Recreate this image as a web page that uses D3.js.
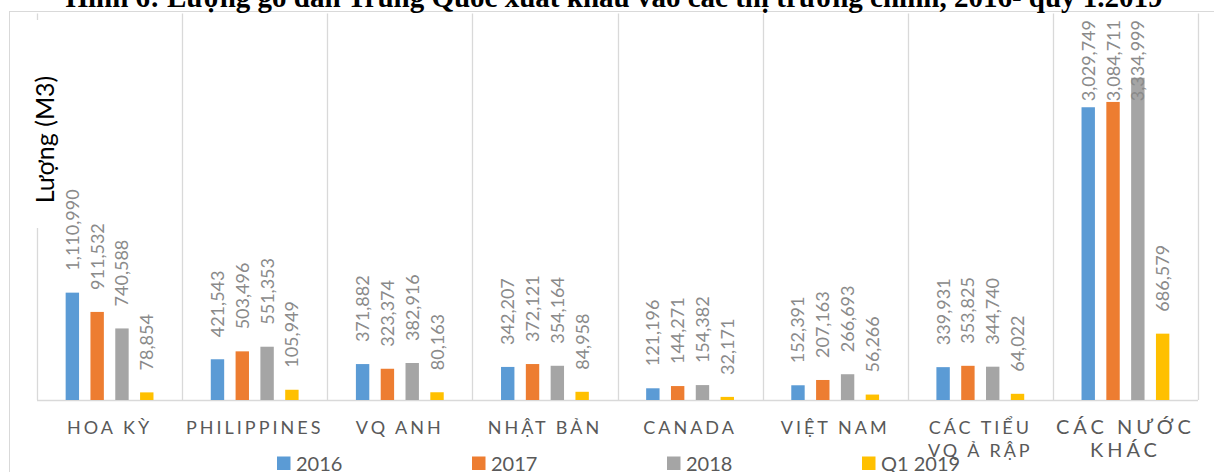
<!DOCTYPE html>
<html>
<head>
<meta charset="utf-8">
<script src="https://cdn.jsdelivr.net/npm/d3@7/dist/d3.min.js"></script>
<style>
  html, body { margin: 0; padding: 0; background: #fff; }
  svg { display: block; }
</style>
</head>
<body>
<svg id="chart" width="1214" height="472"></svg>
<script>
// Markets (a "\n" marks where the axis label wraps)
const categories = [
  "HOA KỲ", "PHILIPPINES", "VQ ANH", "NHẬT BẢN",
  "CANADA", "VIỆT NAM", "CÁC TIỂU\nVQ Ả RẬP", "CÁC NƯỚC\nKHÁC"
];
const seriesNames = ["2016", "2017", "2018", "Q1 2019"];
const values2016 = [1110990, 421543, 371882, 342207, 121196, 152391, 339931, 3029749];
const values2017 = [911532, 503496, 323374, 372121, 144271, 207163, 353825, 3084711];
const values2018 = [740588, 551353, 382916, 354164, 154382, 266693, 344740, 3334999];
const valuesQ12019 = [78854, 105949, 80163, 84958, 32171, 56266, 64022, 686579];
const seriesValues = [values2016, values2017, values2018, valuesQ12019];
const yDomainMax = 4000000;

const titleText = "Hình 6: Lượng gỗ dán Trung Quốc xuất khẩu vào các thị trường chính, 2016- quý 1.2019";
const yAxisTitle = "Lượng (M3)";

const colors = ["#5B9BD5", "#ED7D31", "#A5A5A5", "#FFC000"];
const gridColor = "#D9D9D9";
const labelFont = "Lato, 'Open Sans', sans-serif";

const svg = d3.select("#chart");

const plot = { left: 37, right: 1198, top: 13.5, bottom: 400 };

const x0 = d3.scaleBand()
  .domain(categories)
  .range([plot.left, plot.right])
  .paddingInner(0)
  .paddingOuter(0);

const x1 = d3.scaleBand()
  .domain(seriesNames)
  .range([0, x0.bandwidth()])
  .paddingInner(0.46)
  .paddingOuter(1.155);

const y = d3.scaleLinear()
  .domain([0, yDomainMax])
  .range([plot.bottom, plot.top]);

// Chart frame
svg.append("rect")
  .attr("x", 9.5).attr("y", 11.5)
  .attr("width", 1230).attr("height", 480)
  .attr("fill", "none")
  .attr("stroke", gridColor)
  .attr("stroke-width", 1);

// Vertical gridlines between categories
const boundaries = categories.map(c => x0(c)).concat([plot.right]);
svg.append("g")
  .selectAll("line")
  .data(boundaries)
  .join("line")
  .attr("x1", d => Math.round(d) + 0.5)
  .attr("x2", d => Math.round(d) + 0.5)
  .attr("y1", plot.top)
  .attr("y2", plot.bottom)
  .attr("stroke", gridColor)
  .attr("stroke-width", 1.3);

// Category axis line
svg.append("line")
  .attr("x1", plot.left).attr("x2", plot.right)
  .attr("y1", plot.bottom + 0.5).attr("y2", plot.bottom + 0.5)
  .attr("stroke", gridColor)
  .attr("stroke-width", 1.5);

// Bars
const groups = svg.append("g")
  .selectAll("g")
  .data(categories)
  .join("g")
  .attr("transform", c => `translate(${x0(c)},0)`);

const barData = (c, i) => seriesNames.map((s, k) => ({ series: s, k, value: seriesValues[k][i] }));

groups.selectAll("rect")
  .data((c, i) => barData(c, i))
  .join("rect")
  .attr("x", d => x1(d.series))
  .attr("width", x1.bandwidth())
  .attr("y", d => y(d.value))
  .attr("height", d => y(0) - y(d.value))
  .attr("fill", d => colors[d.k]);

// Value labels, rotated, kept inside the plot area
const labelGap = 22;
const labelTopLimit = 20;
groups.selectAll("text.value")
  .data((c, i) => barData(c, i))
  .join("text")
  .attr("class", "value")
  .attr("font-family", labelFont)
  .attr("font-size", 18)
  .attr("fill", "#8a8a8a")
  .attr("text-anchor", "start")
  .attr("dy", "0.36em")
  .text(d => d3.format(",")(d.value))
  .each(function (d) {
    const len = this.getComputedTextLength();
    let base = y(d.value) - labelGap;
    if (base - len < labelTopLimit) base = labelTopLimit + len;
    const cx = x1(d.series) + x1.bandwidth() / 2;
    d3.select(this).attr("transform", `translate(${cx},${base}) rotate(-90)`);
  });

// Category labels
groups.each(function (c, i) {
  const lines = c.split("\n");
  const last = i === categories.length - 1;
  const t = d3.select(this).append("text")
    .attr("font-family", labelFont)
    .attr("font-size", last ? 20 : 18)
    .attr("letter-spacing", last ? 4 : 3)
    .attr("fill", "#595959")
    .attr("text-anchor", "middle");
  lines.forEach((ln, j) => {
    t.append("tspan")
      .attr("x", x0.bandwidth() / 2)
      .attr("y", 434 + j * 23)
      .text(ln);
  });
});

// Axis title on a white box
svg.append("rect")
  .attr("x", 30).attr("y", 20).attr("width", 32).attr("height", 208)
  .attr("fill", "#fff");
svg.append("text")
  .attr("transform", "translate(54,139.5) rotate(-90)")
  .attr("font-family", labelFont)
  .attr("font-size", 25)
  .attr("fill", "#000")
  .attr("text-anchor", "middle")
  .text(yAxisTitle);

// Legend
const legendX = [277, 472, 667, 862];
const legend = svg.append("g")
  .selectAll("g")
  .data(seriesNames)
  .join("g")
  .attr("transform", (d, k) => `translate(${legendX[k]},456.5)`);
legend.append("rect")
  .attr("width", 13.5).attr("height", 13.5)
  .attr("fill", (d, k) => colors[k]);
legend.append("text")
  .attr("x", 19)
  .attr("y", 14)
  .attr("font-family", labelFont)
  .attr("font-size", 20)
  .attr("fill", "#595959")
  .text(d => d);

// Title
svg.append("text")
  .attr("x", 614)
  .attr("y", 7)
  .attr("text-anchor", "middle")
  .attr("font-family", "'Liberation Serif', 'Times New Roman', serif")
  .attr("font-weight", "bold")
  .attr("font-size", 29)
  .attr("fill", "#000")
  .text(titleText);
</script>
</body>
</html>
